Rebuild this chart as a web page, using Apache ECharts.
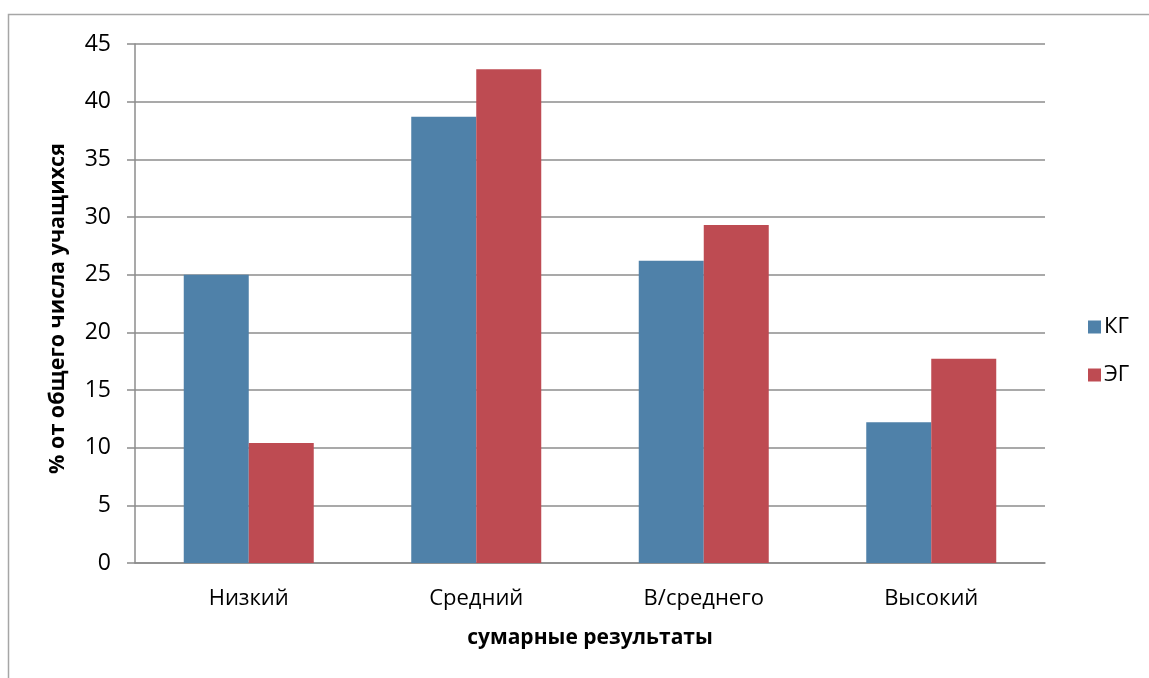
<!DOCTYPE html>
<html>
<head>
<meta charset="utf-8">
<script src="https://cdn.jsdelivr.net/npm/echarts@6/dist/echarts.min.js"></script>
<style>
  html, body { margin: 0; padding: 0; background: #ffffff; }
  #chart { width: 1149px; height: 678px; }
</style>
</head>
<body>
<div id="chart"></div>
<script>
// Уровни суммарных результатов
const categories = ['Низкий', 'Средний', 'В/среднего', 'Высокий'];
// Контрольная группа, %
const kgValues = [25.0, 38.7, 26.2, 12.2];
// Экспериментальная группа, %
const egValues = [10.4, 42.8, 29.3, 17.7];
const seriesNames = ['КГ', 'ЭГ'];

const FONT = '"Open Sans", "Noto Sans", sans-serif';
const AXIS_GRAY = '#8c8c8c';

const chart = echarts.init(document.getElementById('chart'), null, { renderer: 'canvas' });

chart.setOption({
  animation: false,
  backgroundColor: '#ffffff',
  textStyle: { fontFamily: FONT },
  graphic: [
    {
      type: 'polyline',
      shape: { points: [[8.5, 678], [8.5, 14.5], [1149, 14.5]] },
      style: { stroke: '#a6a6a6', lineWidth: 1.5, fill: null },
      silent: true
    }
  ],
  grid: { left: 135, right: 104, top: 44, bottom: 115, containLabel: false },
  legend: {
    orient: 'vertical',
    left: 1083,
    top: 311,
    itemWidth: 13,
    itemHeight: 13,
    itemGap: 26,
    icon: 'rect',
    textStyle: { fontFamily: FONT, fontSize: 22, color: '#000000', padding: [0, 0, 0, -2] },
    data: seriesNames
  },
  xAxis: {
    type: 'category',
    data: categories,
    name: 'сумарные результаты',
    nameLocation: 'middle',
    nameGap: 65,
    nameTextStyle: { fontFamily: FONT, fontSize: 21, fontWeight: 'bold', color: '#000000' },
    axisLine: { show: true, lineStyle: { color: AXIS_GRAY, width: 1.5 } },
    axisTick: { show: false },
    axisLabel: { fontFamily: FONT, fontSize: 22, color: '#000000', margin: 25 },
    splitLine: { show: false }
  },
  yAxis: {
    type: 'value',
    min: 0,
    max: 45,
    interval: 5,
    name: '% от общего числа учащихся',
    nameLocation: 'middle',
    nameGap: 66,
    nameRotate: 90,
    nameTextStyle: { fontFamily: FONT, fontSize: 21.5, fontWeight: 'bold', color: '#000000', padding: [0, 10, 0, 0] },
    axisLine: { show: true, lineStyle: { color: AXIS_GRAY, width: 1.5 } },
    axisTick: { show: true, length: 8, lineStyle: { color: AXIS_GRAY, width: 1.5 } },
    axisLabel: { fontFamily: FONT, fontSize: 23, color: '#000000', margin: 24 },
    splitLine: { show: true, lineStyle: { color: AXIS_GRAY, width: 1.5 } }
  },
  series: [
    {
      name: seriesNames[0],
      type: 'bar',
      data: kgValues,
      barGap: '0%',
      barCategoryGap: '42.86%',
      itemStyle: { color: '#4f81a9' }
    },
    {
      name: seriesNames[1],
      type: 'bar',
      data: egValues,
      barGap: '0%',
      barCategoryGap: '42.86%',
      itemStyle: { color: '#be4b52' }
    }
  ]
});
</script>
</body>
</html>
